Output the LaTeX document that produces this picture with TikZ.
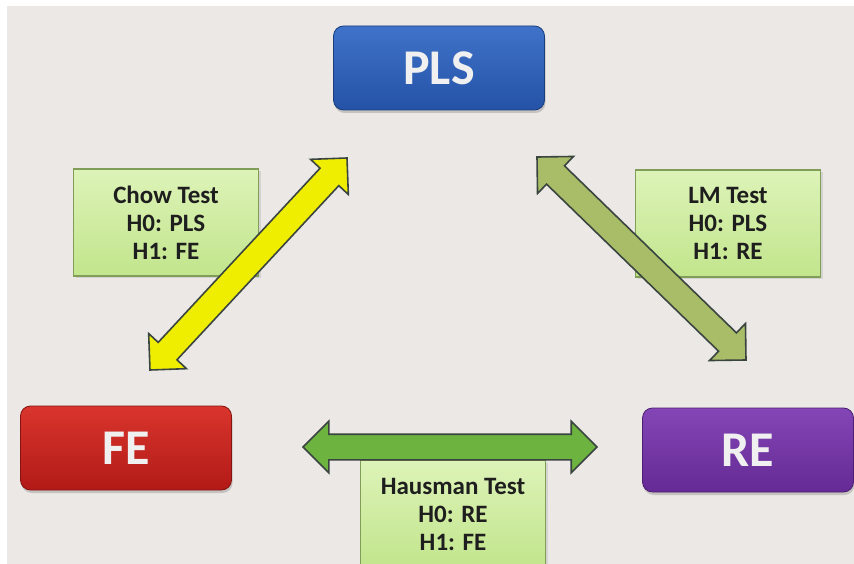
\documentclass[tikz,border=0pt]{standalone}
\usepackage{fontspec}
\setmainfont{Carlito}
\usepackage{xcolor}
\usetikzlibrary{shapes.arrows, positioning, calc, shadows}

\definecolor{bgGray}{HTML}{EBE8E5}
\definecolor{plsTop}{HTML}{3F73C9}
\definecolor{plsBot}{HTML}{2452A6}
\definecolor{feTop}{HTML}{D9352D}
\definecolor{feBot}{HTML}{B21A17}
\definecolor{reTop}{HTML}{8446B6}
\definecolor{reBot}{HTML}{652A95}
\definecolor{testTop}{HTML}{DDF3B8}
\definecolor{testBot}{HTML}{C2E58C}
\definecolor{testEdge}{HTML}{809E58}
\definecolor{arrowEdge}{HTML}{3B4540}
\definecolor{arrowYellow}{HTML}{F0EE00}
\definecolor{arrowOlive}{HTML}{A9BD68}
\definecolor{arrowGreen}{HTML}{6CB33F}
\definecolor{textDark}{HTML}{1E1E1E}

\begin{document}
\begin{tikzpicture}[
    x=1pt, y=-1pt,
    model/.style 2 args={rectangle, rounded corners=10pt, top color=#1, bottom color=#2, draw=#2!75!black, line width=0.8pt, minimum width=211pt, minimum height=84pt, text=white!94!black, font=\fontsize{50}{54}\selectfont\bfseries, drop shadow={opacity=0.35, shadow xshift=1pt, shadow yshift=-3pt}},
    test/.style={rectangle, top color=testTop, bottom color=testBot, draw=testEdge, line width=1.2pt, minimum width=185pt, minimum height=107pt, align=center, text=textDark, font=\fontsize{25}{28}\selectfont\bfseries, drop shadow={opacity=0.2, shadow xshift=2pt, shadow yshift=-2pt}},
    dblarrow/.style={double arrow, double arrow head extend=13pt, double arrow tip angle=90, inner xsep=0pt, inner ysep=12pt, fill=#1, draw=arrowEdge, line width=1.6pt, sloped}
]
\useasboundingbox (0,0) rectangle (854,564);
\clip (0,0) rectangle (854,564);
\fill[white] (0,0) rectangle (854,564);
\fill[bgGray] (7,6) rectangle (854,564);

% models
\node[model={plsTop}{plsBot}] (pls) at (439,68) {PLS};
\node[model={feTop}{feBot}] (fe) at (126,448) {FE};
\node[model={reTop}{reBot}] (re) at (748,450) {RE};

% tests
\node[test, below left=58pt and 74pt of pls] (chow) {Chow Test\\H0: PLS\\H1: FE};
\node[test, below right=59pt and 90pt of pls] (lm) {LM Test\\H0: PLS\\H1: RE};
\node[test] (hausman) at (453,514) {Hausman Test\\H0: RE\\H1: FE};

% arrow ends
\coordinate (chowA) at (347,158);
\coordinate (chowB) at (150,370);
\coordinate (lmA) at (537,157);
\coordinate (lmB) at (746,360);
\coordinate (hausA) at (303,447);
\coordinate (hausB) at (597,447);

\path let \p1=($(chowB)-(chowA)$), \n1={veclen(\x1,\y1)} in
    (chowA) -- node[dblarrow=arrowYellow, minimum height=\n1] {} (chowB);
\path let \p1=($(lmB)-(lmA)$), \n1={veclen(\x1,\y1)} in
    (lmA) -- node[dblarrow=arrowOlive, minimum height=\n1] {} (lmB);
\path let \p1=($(hausB)-(hausA)$), \n1={veclen(\x1,\y1)} in
    (hausA) -- node[dblarrow=arrowGreen, minimum height=\n1] {} (hausB);
\end{tikzpicture}
\end{document}
